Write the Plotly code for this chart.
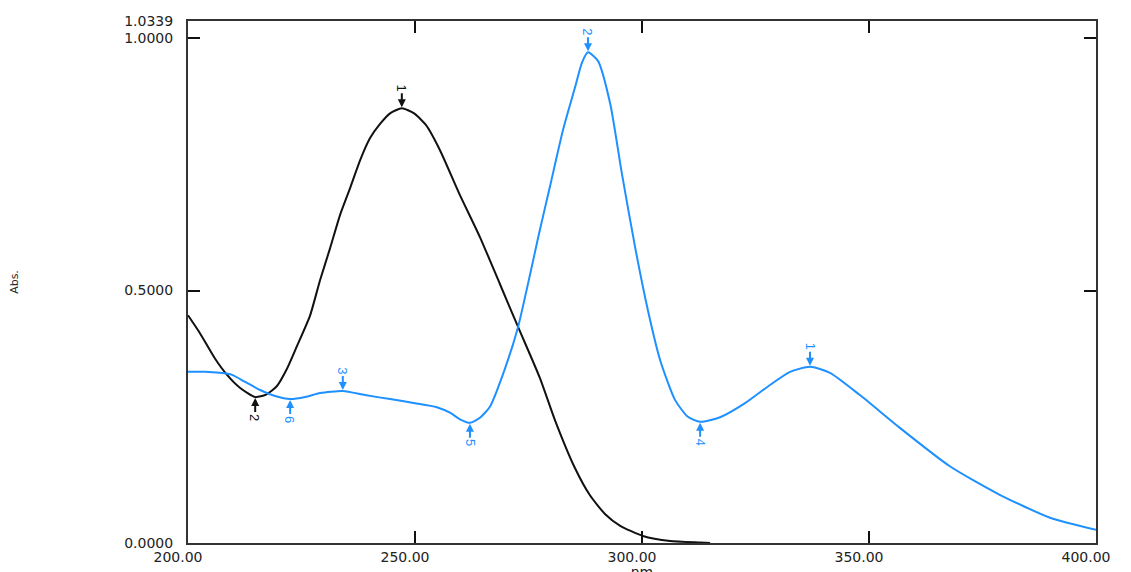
import plotly.graph_objects as go

# Black spectrum (wavelength nm, absorbance)
black_nm = [200.0, 202.6, 205.9, 208.6, 211.5, 214.8, 217.2, 219.6, 221.8, 224.0, 226.9, 229.1,
            231.3, 233.5, 235.7, 237.9, 240.1, 242.3, 244.5, 247.1, 249.8, 252.4, 255.5, 259.9,
            264.3, 268.7, 272.7, 277.5, 280.8, 285.2, 288.5, 291.9, 295.2, 300.2, 306.2, 312.8, 315.0]
black_abs = [0.451, 0.416, 0.366, 0.333, 0.307, 0.289, 0.294, 0.311, 0.345, 0.390, 0.451, 0.521,
             0.584, 0.650, 0.703, 0.758, 0.802, 0.830, 0.851, 0.861, 0.851, 0.828, 0.778, 0.689,
             0.606, 0.513, 0.428, 0.327, 0.244, 0.149, 0.095, 0.057, 0.034, 0.014, 0.004, 0.001, 0.0]

# Blue spectrum
blue_nm = [200.0, 203.7, 207.0, 209.7, 212.6, 215.9, 219.2, 222.5, 225.8, 229.1, 234.1, 239.0,
           244.5, 250.0, 254.8, 257.7, 259.9, 262.1, 264.3, 266.5, 269.8, 272.7, 277.5, 279.7,
           282.6, 285.2, 286.8, 288.1, 290.3, 293.0, 295.6, 298.5, 301.3, 304.0, 307.3, 310.1, 312.8,
           317.2, 322.7, 328.2, 332.6, 337.0, 341.4, 348.0, 356.8, 367.8, 378.9, 389.9, 400.0]
blue_abs = [0.339, 0.339, 0.337, 0.333, 0.319, 0.303, 0.291, 0.285, 0.289, 0.297, 0.301, 0.293,
            0.285, 0.277, 0.269, 0.258, 0.245, 0.238, 0.248, 0.270, 0.345, 0.428, 0.620, 0.705,
            0.818, 0.901, 0.952, 0.972, 0.955, 0.870, 0.730, 0.585, 0.461, 0.362, 0.283, 0.250, 0.240,
            0.249, 0.277, 0.313, 0.339, 0.349, 0.337, 0.293, 0.228, 0.152, 0.095, 0.050, 0.026]

# Peak / valley picks: label, nm, abs, is_peak
black_picks = [("1", 247.1, 0.861, True), ("2", 214.8, 0.289, False)]
blue_picks = [("1", 337.0, 0.349, True), ("2", 288.1, 0.972, True), ("3", 234.1, 0.301, True),
              ("4", 312.8, 0.240, False), ("5", 262.1, 0.238, False), ("6", 222.5, 0.285, False)]

x_ticks = [200, 250, 300, 350, 400]
x_ticktext = ["200.00", "250.00", "300.00", "350.00", "400.00"]
y_ticks = [0.0, 0.5, 1.0, 1.0339]
y_ticktext = ["0.0000", "0.5000", "1.0000", "1.0339"]

BLACK = "#111111"
BLUE = "#1E90FF"

fig = go.Figure()
fig.add_trace(go.Scatter(x=black_nm, y=black_abs, mode="lines",
                         line=dict(color=BLACK, width=2, shape="spline", smoothing=0.6),
                         showlegend=False, hoverinfo="skip"))
fig.add_trace(go.Scatter(x=blue_nm, y=blue_abs, mode="lines",
                         line=dict(color=BLUE, width=2, shape="spline", smoothing=0.6),
                         showlegend=False, hoverinfo="skip"))

annotations = []
for picks, col in ((black_picks, BLACK), (blue_picks, BLUE)):
    for lab, xv, yv, is_peak in picks:
        annotations.append(dict(
            x=xv, y=yv, xref="x", yref="y", text=lab, textangle=90,
            showarrow=True, arrowhead=2, arrowsize=0.8, arrowwidth=2, arrowcolor=col,
            ax=0, ay=-20 if is_peak else 20, standoff=1,
            font=dict(family="Liberation Sans, Arial", size=13, color=col)))

fig.update_layout(
    width=1131, height=572,
    margin=dict(l=180, r=43, t=13, b=37),
    paper_bgcolor="white", plot_bgcolor="white",
    font=dict(family="DejaVu Sans, Liberation Sans", size=14, color="#222222"),
    annotations=annotations,
    xaxis=dict(range=[200, 400], tickmode="array", tickvals=x_ticks, ticktext=x_ticktext,
               ticks="inside", ticklen=12, tickwidth=2, tickcolor="#111111",
               showline=True, linecolor="#333333", linewidth=2, mirror="ticks",
               showgrid=False, zeroline=False, ticklabelshift=-10,
               title=dict(text="nm", standoff=11, font=dict(size=14)), automargin=False),
    yaxis=dict(range=[0, 1.0339], tickmode="array", tickvals=y_ticks, ticktext=y_ticktext,
               ticks="inside", ticklen=12, tickwidth=2, tickcolor="#111111",
               showline=True, linecolor="#333333", linewidth=2, mirror="ticks",
               showgrid=False, zeroline=False, ticklabelstandoff=10,
               title=dict(text="Abs.", standoff=150, font=dict(size=11)), automargin=False),
)

fig.write_html("out.html")
